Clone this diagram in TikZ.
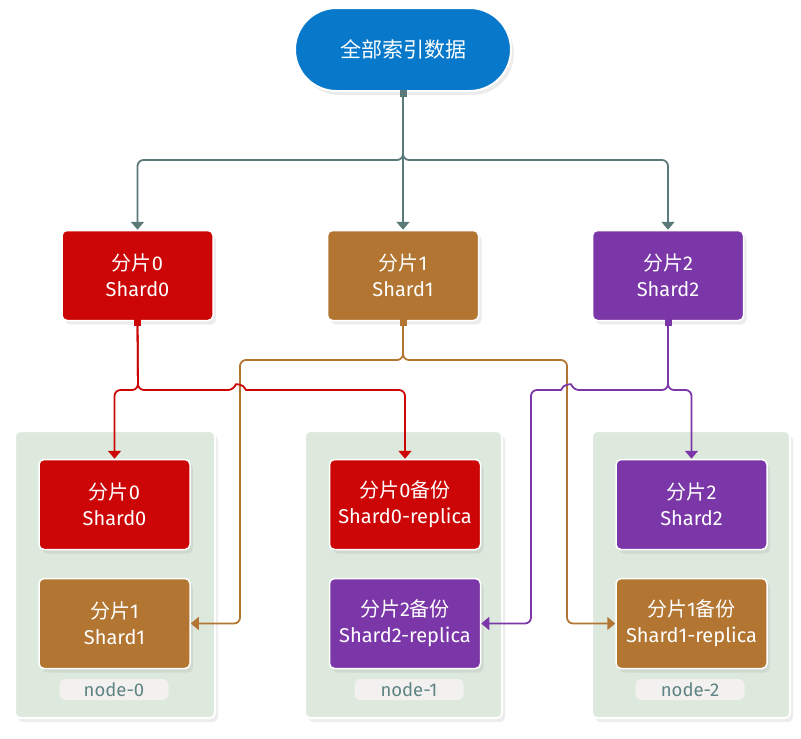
\documentclass[tikz,border=0pt]{standalone}
\usepackage{fontspec}
\setmainfont{Fira Sans}
\newfontfamily\cjk{Noto Sans CJK SC}
\usetikzlibrary{arrows.meta,shadows,calc}
\definecolor{cblue}{HTML}{0778CA}
\definecolor{cred}{HTML}{CC0606}
\definecolor{cbrown}{HTML}{B27532}
\definecolor{cpurple}{HTML}{7B37A8}
\definecolor{cgray}{HTML}{5A7A7A}
\definecolor{cgreen}{HTML}{DEE9DE}
\definecolor{cpill}{HTML}{F3F1EF}
\definecolor{clabel}{HTML}{5E8484}
\tikzset{
  shad/.style={drop shadow={shadow xshift=3pt,shadow yshift=-4pt,opacity=0.12,fill=black!60}},
  shardbox/.style={rectangle,rounded corners=5pt,draw=white,line width=1.5pt,
    minimum width=151pt,minimum height=90pt,text=white,align=center,
    font=\fontsize{20}{26}\selectfont,shad},
  hostbox/.style={rectangle,rounded corners=5pt,draw=white,line width=2pt,
    fill=cgreen,minimum height=287pt,shad},
  hostlabel/.style={rectangle,rounded corners=6pt,fill=cpill,minimum width=109pt,
    minimum height=21pt,inner sep=0pt,text=clabel,font=\fontsize{18.5}{18}\selectfont},
  conn/.style={line width=1.8pt,rounded corners=6pt,-{Triangle[width=13pt,length=8pt]}},
  sq/.style={rectangle,minimum size=7pt,inner sep=0pt},
}
\begin{document}
\begin{tikzpicture}[x=1pt,y=-1pt]
\useasboundingbox (0,0) rectangle (801,739);
% hosts
\node[hostbox,minimum width=200pt] (h0) at (115,574.5) {};
\node[hostbox,minimum width=197pt] (h1) at (403.5,574.5) {};
\node[hostbox,minimum width=198pt] (h2) at (691,574.5) {};
\node[hostlabel] (l0) at (114,689.5) {node-0};
\node[hostlabel] (l1) at (409,689.5) {node-1};
\node[hostlabel] (l2) at (690,689.5) {node-2};
% top
\node[rectangle,rounded corners=41.5pt,draw=white,line width=2pt,fill=cblue,
  minimum width=216pt,minimum height=83pt,text=white,shad,
  font=\cjk\fontsize{21}{22}\selectfont] (top) at (403,49.5) {全部索引数据};
% shards
\node[shardbox,fill=cred] (sh0) at (137.5,275.5) {{\cjk 分片}0\\Shard0};
\node[shardbox,fill=cbrown] (sh1) at (403,275.5) {{\cjk 分片}1\\Shard1};
\node[shardbox,fill=cpurple] (sh2) at (668,275.5) {{\cjk 分片}2\\Shard2};
% inner boxes
\node[shardbox,fill=cred] (n0s0) at (114.5,504.5) {{\cjk 分片}0\\Shard0};
\node[shardbox,fill=cbrown] (n0s1) at (114.5,623.5) {{\cjk 分片}1\\Shard1};
\node[shardbox,fill=cred] (n1s0) at (405,504.5) {{\cjk 分片}0{\cjk 备份}\\Shard0-replica};
\node[shardbox,fill=cpurple] (n1s2) at (405,623.5) {{\cjk 分片}2{\cjk 备份}\\Shard2-replica};
\node[shardbox,fill=cpurple] (n2s0) at (691.5,504.5) {{\cjk 分片}2\\Shard2};
\node[shardbox,fill=cbrown] (n2s1) at (691.5,623.5) {{\cjk 分片}1{\cjk 备份}\\Shard1-replica};
% bus coordinates
\coordinate (gbus) at (403,160);
\coordinate (rbus) at (138,390);
\coordinate (bbus) at (403,360);
\coordinate (pbus) at (668,390);
\coordinate (bcolL) at (240,360);
\coordinate (bcolR) at (567,360);
\coordinate (pcolL) at (531,390);
% gray
\draw[conn,cgray] (top.south) -- (gbus) -| (sh0.north);
\draw[conn,cgray] (top.south) -- (sh1.north);
\draw[conn,cgray] (top.south) -- (gbus) -| (sh2.north);
% brown
\draw[conn,cbrown] (sh1.south) -- (bbus) -- (bcolL) |- (n0s1.east);
\draw[conn,cbrown] (sh1.south) -- (bbus) -- (bcolR) |- (n2s1.west);
% red
\draw[conn,cred] (sh0.south) -- (rbus) -| (n0s0.north);
\draw[conn,cred] (sh0.south) -- (rbus) -- ($(bcolL|-rbus)+(-6,0)$) [sharp corners]
  .. controls ($(bcolL|-rbus)+(-4,-6)$) and ($(bcolL|-rbus)+(4,-6)$) .. ($(bcolL|-rbus)+(6,0)$)
  [rounded corners=6pt] -| (n1s0.north);
% purple
\draw[conn,cpurple] (sh2.south) -- (pbus) -| (n2s0.north);
\draw[conn,cpurple] (sh2.south) -- (pbus) -- ($(bcolR|-pbus)+(6,0)$) [sharp corners]
  .. controls ($(bcolR|-pbus)+(4,-6)$) and ($(bcolR|-pbus)+(-4,-6)$) .. ($(bcolR|-pbus)+(-6,0)$)
  [rounded corners=6pt] -- (pcolL) |- (n1s2.east);
% start markers
\node[sq,fill=cgray] (m0) at ($(top.south)+(0,1.5)$) {};
\node[sq,fill=cred] (m1) at ($(sh0.south)+(0,1.5)$) {};
\node[sq,fill=cbrown] (m2) at ($(sh1.south)+(0,1.5)$) {};
\node[sq,fill=cpurple] (m3) at ($(sh2.south)+(0,1.5)$) {};
\end{tikzpicture}
\end{document}
